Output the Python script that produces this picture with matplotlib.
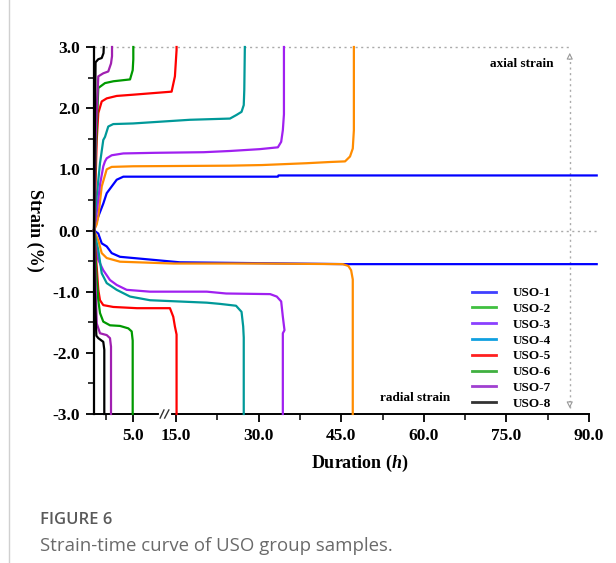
import numpy as np
import matplotlib
matplotlib.use("Agg")
import matplotlib.pyplot as plt
from matplotlib.lines import Line2D

plt.rcParams['font.family'] = 'Liberation Serif'
plt.rcParams['font.weight'] = 'bold'
plt.rcParams['axes.labelweight'] = 'bold'
plt.rcParams['mathtext.fontset'] = 'custom'
plt.rcParams['mathtext.it'] = 'Liberation Serif:bold:italic'
plt.rcParams['mathtext.rm'] = 'Liberation Serif:bold'

samples = ['USO-1', 'USO-2', 'USO-3', 'USO-4', 'USO-5', 'USO-6', 'USO-7', 'USO-8']
curve_colors = ['#0000ff', '#ff8c00', '#a020f0', '#009999', '#ff0000', '#009900', '#a020b0', '#000000']
legend_colors = ['#4040ff', '#40c040', '#8a40ff', '#10a0e0', '#ff2020', '#40b040', '#a040d0', '#333333']

# axial strain (h, %)
axial_t = [
    [0, 0.13, 0.55, 1.19, 1.63, 2.27, 2.91, 3.76, 15, 33.5, 33.6, 91.4],
    [0, 0.35, 0.55, 0.99, 1.63, 2.27, 5.0, 24.8, 30.6, 38.7, 43.0, 45.7, 46.6, 47.1, 47.3, 47.3],
    [0, 0.35, 0.77, 1.19, 1.41, 1.63, 2.27, 3.76, 10, 20, 24.8, 30.2, 33.5, 34.1, 34.4, 34.6, 34.6],
    [0, 0.3, 0.77, 1.19, 1.41, 1.83, 2.47, 5.0, 17.5, 24.8, 26.0, 26.9, 27.3, 27.4, 27.5],
    [0, 0.2, 0.35, 0.55, 0.99, 1.63, 2.91, 5.0, 14.2, 14.8, 15.1, 15.1],
    [0, 0.2, 0.55, 1.41, 2.5, 4.62, 4.96, 5.04, 5.04],
    [0, 0.2, 0.55, 1.19, 1.83, 2.18, 2.31, 2.31],
    [0, 0.1, 0.2, 0.55, 0.99, 1.22, 1.25],
]
axial_s = [
    [0, 0.06, 0.23, 0.44, 0.61, 0.72, 0.83, 0.88, 0.88, 0.88, 0.90, 0.90],
    [0, 0.10, 0.23, 0.72, 1.0, 1.04, 1.05, 1.06, 1.07, 1.10, 1.12, 1.13, 1.21, 1.34, 1.64, 3.0],
    [0, 0.3, 0.75, 1.05, 1.13, 1.18, 1.23, 1.26, 1.27, 1.28, 1.30, 1.33, 1.36, 1.45, 1.64, 1.9, 3.0],
    [0, 0.5, 1.1, 1.48, 1.53, 1.70, 1.74, 1.75, 1.81, 1.83, 1.89, 1.94, 2.05, 2.30, 3.0],
    [0, 0.8, 1.48, 1.92, 2.11, 2.16, 2.20, 2.22, 2.27, 2.52, 2.95, 3.0],
    [0, 1.2, 2.33, 2.41, 2.44, 2.47, 2.62, 2.8, 3.0],
    [0, 1.5, 2.52, 2.57, 2.60, 2.73, 2.85, 3.0],
    [0, 1.5, 2.75, 2.80, 2.82, 2.90, 3.0],
]

# radial strain (h, %)
radial_t = [
    [0, 0.55, 0.99, 1.63, 2.27, 3.33, 5.04, 9.62, 15.7, 46, 91.4],
    [0, 0.55, 0.99, 1.63, 3.33, 14.5, 30, 45.3, 46.3, 46.8, 47.1, 47.1],
    [0, 0.3, 0.55, 1.19, 2.05, 2.91, 4.19, 8.66, 20.6, 24.1, 32.1, 33.3, 34.1, 34.4, 34.7, 34.4, 34.4],
    [0, 0.55, 0.99, 1.63, 2.91, 4.62, 8.66, 20.6, 23.0, 25.9, 26.9, 27.2, 27.3, 27.3],
    [0, 0.35, 0.55, 0.77, 1.19, 2.47, 5.5, 13.9, 14.5, 14.8, 15.1, 15.1],
    [0, 0.3, 0.55, 0.77, 1.19, 2.05, 3.33, 4.40, 4.83, 4.96, 4.96],
    [0, 0.2, 0.35, 0.77, 1.63, 2.05, 2.18, 2.18],
    [0, 0.1, 0.3, 0.55, 1.19, 1.32, 1.32],
]
radial_s = [
    [0, -0.05, -0.21, -0.26, -0.37, -0.43, -0.45, -0.48, -0.52, -0.55, -0.55],
    [0, -0.16, -0.37, -0.45, -0.51, -0.54, -0.54, -0.55, -0.58, -0.65, -0.80, -3.0],
    [0, -0.3, -0.48, -0.65, -0.81, -0.89, -0.97, -1.0, -1.0, -1.03, -1.04, -1.08, -1.16, -1.41, -1.63, -1.68, -3.0],
    [0, -0.32, -0.70, -0.86, -0.97, -1.08, -1.14, -1.18, -1.20, -1.23, -1.33, -1.57, -1.75, -3.0],
    [0, -0.6, -0.97, -1.14, -1.22, -1.25, -1.27, -1.27, -1.41, -1.57, -1.7, -3.0],
    [0, -0.7, -1.14, -1.35, -1.49, -1.55, -1.56, -1.60, -1.65, -1.8, -3.0],
    [0, -0.9, -1.52, -1.68, -1.71, -1.76, -1.9, -3.0],
    [0, -1.0, -1.72, -1.76, -1.82, -1.95, -3.0],
]

x_ticks = [5, 15, 30, 45, 60, 75, 90]
x_labels = ['5.0', '15.0', '30.0', '45.0', '60.0', '75.0', '90.0']
y_ticks = [-3, -2, -1, 0, 1, 2, 3]
y_labels = ['-3.0', '-2.0', '-1.0', '0.0', '1.0', '2.0', '3.0']

# broken time axis: 0-6 h stretched, 6-13 h squeezed into the break, 13-90 h linear
brk_h = [-50, 0, 6, 13, 90, 300]
brk_u = [-390, 0, 46.8, 71, 495, 495 + 210 * 5.507]


def fwd(x):
    return np.interp(x, brk_h, brk_u)


def inv(u):
    return np.interp(u, brk_u, brk_h)


fig = plt.figure(figsize=(6.16, 5.63), dpi=100)
ax = fig.add_axes([94 / 616, 149 / 563, 495 / 616, 367 / 563])
ax.set_xscale('function', functions=(fwd, inv))
ax.set_xlim(0, 90)
ax.set_ylim(-3, 3)

# reference lines and strain direction arrows
ax.plot([0, 91.4], [0, 0], ls=(0, (1.5, 2.5)), color='#aaaaaa', lw=1, clip_on=False, zorder=1)
ax.plot([0, 86.5], [3, 3], ls=(0, (1.5, 2.5)), color='#aaaaaa', lw=1, clip_on=False, zorder=1)
ax.plot([86.5, 86.5], [-2.9, 2.9], ls=(0, (1.5, 2.5)), color='#aaaaaa', lw=1, zorder=1)
ax.annotate('', xy=(86.5, 2.95), xytext=(86.5, 2.75),
            arrowprops=dict(arrowstyle='-|>', color='#999999', fc='white', lw=0.8, mutation_scale=9))
ax.annotate('', xy=(86.5, -2.95), xytext=(86.5, -2.75),
            arrowprops=dict(arrowstyle='-|>', color='#999999', fc='white', lw=0.8, mutation_scale=9))

for i in range(len(samples)):
    ax.plot(axial_t[i], axial_s[i], color=curve_colors[i], lw=1.6, clip_on=False, zorder=2 + i)
    ax.plot(radial_t[i], radial_s[i], color=curve_colors[i], lw=1.6, clip_on=False, zorder=2 + i)

ax.text(77.8, 2.72, 'axial strain', ha='center', va='center', fontsize=9.5)
ax.text(58.4, -2.74, 'radial strain', ha='center', va='center', fontsize=9.5)

ax.spines['top'].set_visible(False)
ax.spines['right'].set_visible(False)
ax.spines['left'].set_linewidth(1.6)
ax.spines['bottom'].set_linewidth(1.4)

ax.set_xticks(x_ticks)
ax.set_xticklabels(x_labels)
ax.set_xticks([1.5, 22.5, 37.5, 52.5, 67.5, 82.5], minor=True)
ax.set_yticks(y_ticks)
ax.set_yticklabels(y_labels)
ax.set_yticks([-2.5, -1.5, -0.5, 0.5, 1.5, 2.5], minor=True)
ax.tick_params(which='major', direction='out', length=6, width=1.3, labelsize=12.5, pad=4)
ax.tick_params(which='minor', direction='out', length=4, width=1.1)

# axis break marks
xt = ax.get_xaxis_transform()
ax.plot([11.9, 13.7], [0, 0], color='white', lw=3, transform=xt, clip_on=False, zorder=20)
ax.plot([11.6, 12.7], [-0.011, 0.011], color='#333333', lw=1, transform=xt, clip_on=False, zorder=21)
ax.plot([12.9, 13.7], [-0.011, 0.011], color='#333333', lw=1, transform=xt, clip_on=False, zorder=21)

ax.set_xlabel(r'Duration ($\it{h}$)', fontsize=13)
ax.xaxis.set_label_coords(0.537, -0.105)
ax.set_ylabel('Strain (%)', fontsize=13, rotation=-90, va='center')
ax.yaxis.set_label_coords(-0.119, 0.5)

handles = [Line2D([], [], color=c, lw=2) for c in legend_colors]
fig.legend(handles, samples, loc='upper left', bbox_to_anchor=(472 / 616, 1 - 287 / 563),
           frameon=False, borderpad=0, borderaxespad=0, handlelength=1.8, handletextpad=1.3,
           labelspacing=0.27, prop={'family': 'Liberation Serif', 'weight': 'bold', 'size': 9.5})

# page frame and caption
fig.add_artist(Line2D([9 / 616, 9 / 616], [0, 1], color='#d0d0d0', lw=1))
fig.text(40 / 616, 1 - 520 / 563, 'FIGURE 6', fontfamily='Open Sans', fontweight='semibold',
         fontsize=12, color='#5a5a5a', va='center')
fig.text(40 / 616, 1 - 546 / 563, 'Strain-time curve of USO group samples.', fontfamily='Open Sans',
         fontweight='normal', fontsize=13.4, color='#6a6a6a', va='center')

plt.savefig('out.png', dpi=100)
